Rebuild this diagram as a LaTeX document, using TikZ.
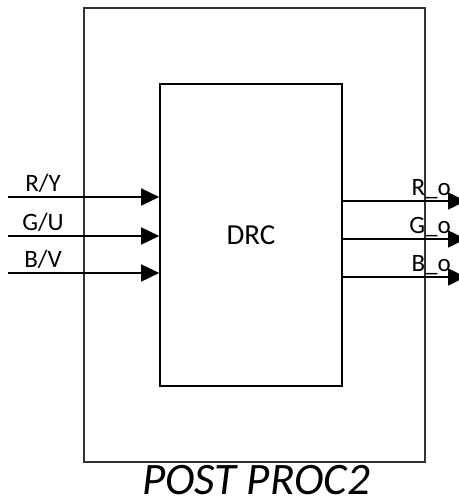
\documentclass[tikz,border=0pt]{standalone}
\usepackage{fontspec}
\setmainfont{Carlito}
\usetikzlibrary{arrows.meta, positioning}

\begin{document}
\begin{tikzpicture}[x=1pt,y=-1pt,
    box/.style={draw,line width=1.6pt,minimum width=#1},
    sig/.style={line width=1.5pt,-{Triangle[length=18pt,width=17pt]}},
    lbl/.style={font=\fontsize{25}{25}\selectfont,inner sep=1pt}]
        \useasboundingbox (0,0) rectangle (458,503);
        \node[box=341pt,minimum height=454pt,draw=black!80](post) at (254.5,235){};
        \node[box=182pt,minimum height=302pt](drc) at (251,235)
          {\fontsize{29}{29}\selectfont DRC};
        \node[font=\fontsize{45}{45}\selectfont\itshape,anchor=base,inner sep=0pt] at (256,494){POST PROC2};
        % inputs
        \coordinate(ry) at (8,197);
        \coordinate(gu) at (8,236);
        \coordinate(bv) at (8,273);
        \draw[sig](ry)--(ry-|drc.west);
        \draw[sig](gu)--(gu-|drc.west);
        \draw[sig](bv)--(bv-|drc.west);
        \node[lbl,above] at (43,194){R/Y};
        \node[lbl,above] at (43,233){G/U};
        \node[lbl,above] at (43,270){B/V};
        % outputs
        \coordinate(ro) at (466,201);
        \coordinate(go) at (466,239);
        \coordinate(bo) at (466,277);
        \draw[sig](ro-|drc.east)--(ro);
        \draw[sig](go-|drc.east)--(go);
        \draw[sig](bo-|drc.east)--(bo);
        \node[lbl,anchor=south east] at (452,200){R\_o};
        \node[lbl,anchor=south east] at (452,238){G\_o};
        \node[lbl,anchor=south east] at (452,276){B\_o};
      \end{tikzpicture}
\end{document}
